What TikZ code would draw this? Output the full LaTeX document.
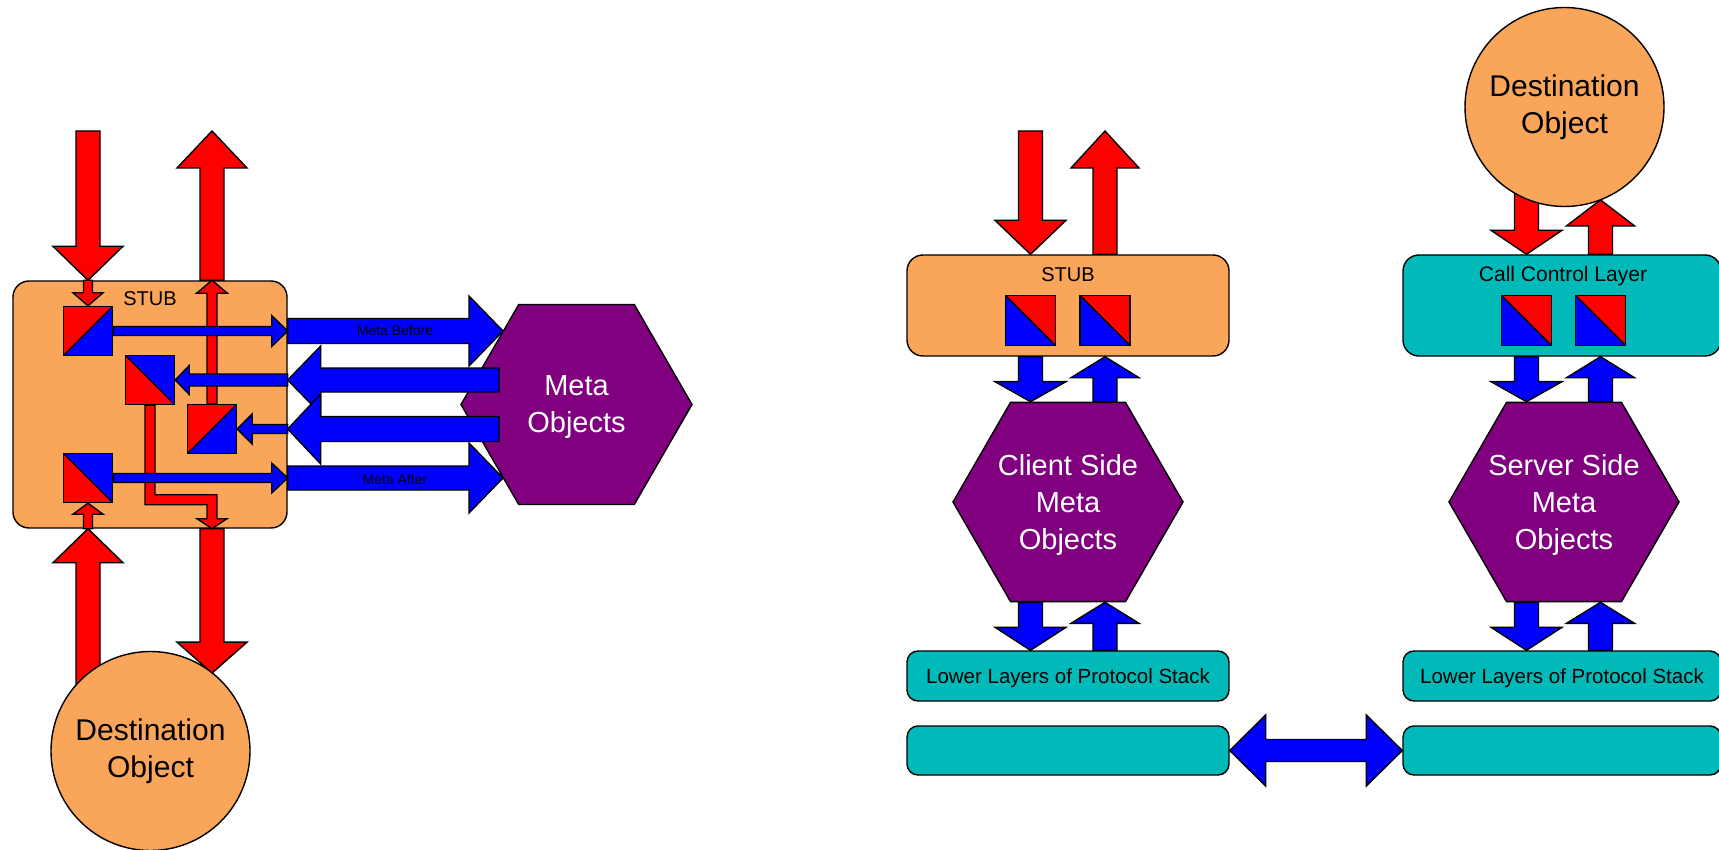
\documentclass[tikz,border=0pt]{standalone}
\usepackage{fontspec}
\setmainfont{Liberation Sans}
\usetikzlibrary{calc,shapes.geometric}

\definecolor{boxorange}{RGB}{250,166,90}
\definecolor{layerteal}{RGB}{0,185,185}
\definecolor{metapurple}{RGB}{128,0,128}
\definecolor{sigred}{RGB}{255,0,0}
\definecolor{sigblue}{RGB}{0,0,255}

\pgfdeclarelayer{back}
\pgfsetlayers{back,main}

\tikzset{
  outline/.style={draw=black, line width=1.4pt, line join=miter},
  redarrow/.style={outline, fill=sigred},
  bluearrow/.style={outline, fill=sigblue},
  stubbox/.style={outline, fill=boxorange, rounded corners=16pt, inner sep=0pt},
  layerbox/.style={outline, fill=layerteal, rounded corners=11pt, inner sep=0pt},
  metahex/.style={outline, fill=metapurple, regular polygon, regular polygon sides=6, inner sep=0pt},
  destcircle/.style={outline, fill=boxorange, circle, inner sep=0pt, minimum size=199pt,
                     align=center, font=\fontsize{30}{37}\selectfont},
  hextext/.style={text=white, align=center, inner sep=0pt, font=\fontsize{29}{37}\selectfont},
  lbl/.style={font=\fontsize{#1}{#1}\selectfont, text depth=0pt, inner sep=0pt},
  sq/.style={outline, minimum size=#1, inner sep=0pt},
  % red upper-left half, diagonal from lower left to upper right
  sqUL/.style={sq=#1, path picture={
      \fill[sigred] (path picture bounding box.north west) -- (path picture bounding box.north east)
                    -- (path picture bounding box.south west) -- cycle;
      \fill[sigblue] (path picture bounding box.north east) -- (path picture bounding box.south east)
                    -- (path picture bounding box.south west) -- cycle;
      \draw[line width=1.4pt] (path picture bounding box.south west) -- (path picture bounding box.north east);}},
  % red lower-left half, diagonal from upper left to lower right
  sqLL/.style={sq=#1, path picture={
      \fill[sigred] (path picture bounding box.north west) -- (path picture bounding box.south west)
                    -- (path picture bounding box.south east) -- cycle;
      \fill[sigblue] (path picture bounding box.north west) -- (path picture bounding box.north east)
                    -- (path picture bounding box.south east) -- cycle;
      \draw[line width=1.4pt] (path picture bounding box.north west) -- (path picture bounding box.south east);}},
  % red upper-right half, diagonal from upper left to lower right
  sqUR/.style={sq=#1, path picture={
      \fill[sigred] (path picture bounding box.north west) -- (path picture bounding box.north east)
                    -- (path picture bounding box.south east) -- cycle;
      \fill[sigblue] (path picture bounding box.north west) -- (path picture bounding box.south west)
                    -- (path picture bounding box.south east) -- cycle;
      \draw[line width=1.4pt] (path picture bounding box.north west) -- (path picture bounding box.south east);}},
}

% block arrow: [style]{from}{to}{shaft half width}{head half width}{head length}
\newcommand\fatarrow[6][]{%
  \path ($(#3)!#6!(#2)$) coordinate (fa-h);
  \filldraw[#1]
    ($(#2)!#4!90:(#3)$) -- ($(fa-h)!#4!-90:(#2)$) -- ($(fa-h)!#5!-90:(#2)$) -- (#3)
    -- ($(fa-h)!#5!90:(#2)$) -- ($(fa-h)!#4!90:(#2)$) -- ($(#2)!#4!-90:(#3)$) -- cycle;}

% block arrow with a head at both ends
\newcommand\dblarrow[6][]{%
  \path ($(#2)!#6!(#3)$) coordinate (da-a) ($(#3)!#6!(#2)$) coordinate (da-b);
  \filldraw[#1] (#2) -- ($(da-a)!#5!90:(#3)$) -- ($(da-a)!#4!90:(#3)$)
    -- ($(da-b)!#4!-90:(#2)$) -- ($(da-b)!#5!-90:(#2)$) -- (#3)
    -- ($(da-b)!#5!90:(#2)$) -- ($(da-b)!#4!90:(#2)$)
    -- ($(da-a)!#4!-90:(#3)$) -- ($(da-a)!#5!-90:(#3)$) -- cycle;}

\begin{document}
\begin{tikzpicture}[x=1pt,y=-1pt]
\begin{pgfonlayer}{back}
  \fill[white] (0,0) rectangle (1719,850);
\end{pgfonlayer}
\useasboundingbox (0,0) rectangle (1719,850);

% ================= local stub with meta objects =================
\node[stubbox, minimum width=274pt, minimum height=247pt] (stubL) at (150,404.5) {};
\node[lbl=20] (stubLtxt) at ($(stubL.north)+(0,18)$) {STUB};

\node[sqUL=49pt] (sqA) at (88,331) {};
\node[sqLL=49pt] (sqB) at (150,380) {};
\node[sqUL=49pt] (sqC) at (212,429) {};
\node[sqLL=49pt] (sqD) at (88,478) {};

\node[metahex, minimum size=231pt] (hexL) at (576.5,404.5) {};
\node[hextext] (hexLtxt) at ($(hexL.center)+(0,3)$) {Meta\\Objects};

\node[destcircle] (destL) at (150.5,751) {Destination\\Object};

\coordinate (callL) at (88,131);
\coordinate (retL) at (212,131);
\coordinate (inL) at (sqA.north |- stubL.north);
\coordinate (outL) at (sqC.north |- stubL.north);
\coordinate (backL) at (sqD.south |- stubL.south);
\coordinate (fromDest) at (sqD.south |- destL.center);
\coordinate (toDestS) at (outL |- stubL.south);
\coordinate (toDest) at (outL |- destL.51);

\coordinate (mbS) at (sqA.east -| stubL.east);
\coordinate (mbT) at (503,331);
\coordinate (rt1) at (sqB.east -| stubL.east);
\coordinate (rt1s) at (499,380);
\coordinate (rt2) at (sqC.east -| stubL.east);
\coordinate (rt2s) at (499,429);
\coordinate (maS) at (sqD.east -| stubL.east);
\coordinate (maT) at (503,478);

\begin{pgfonlayer}{back}
  \fatarrow[redarrow]{callL}{inL}{12pt}{35pt}{34pt}
  \fatarrow[redarrow]{outL}{retL}{12pt}{35pt}{37pt}
  \fatarrow[redarrow]{fromDest}{backL}{12pt}{35pt}{34pt}
  \fatarrow[redarrow]{toDestS}{toDest}{12pt}{35pt}{31pt}
\end{pgfonlayer}

% red paths inside the stub
\fatarrow[redarrow]{inL}{sqA.north}{4.5pt}{15pt}{13pt}
\fatarrow[redarrow]{backL}{sqD.south}{4.5pt}{15pt}{11pt}
\fatarrow[redarrow]{sqC.north}{outL}{5pt}{15.5pt}{13pt}
\filldraw[redarrow] ($(sqB.south)+(-5,0)$) |- ($(toDestS)+(-5,-24)$) -- ($(toDestS)+(-5,-10)$)
  -- ($(toDestS)+(-15,-10)$) -- (toDestS) -- ($(toDestS)+(15,-10)$) -- ($(toDestS)+(5,-10)$)
  -- ($(toDestS)+(5,-34)$) -| ($(sqB.south)+(5,0)$) -- cycle;

% blue paths inside the stub
\fatarrow[bluearrow]{sqA.east}{mbS}{4.5pt}{15.5pt}{16pt}
\fatarrow[bluearrow]{rt1}{sqB.east}{6pt}{14.5pt}{14pt}
\fatarrow[bluearrow]{rt2}{sqC.east}{4.5pt}{15pt}{15pt}
\fatarrow[bluearrow]{sqD.east}{maS}{4.5pt}{15pt}{16pt}

% calls to and from the meta objects
\fatarrow[bluearrow]{mbS}{mbT}{12.5pt}{35pt}{34pt}
\fatarrow[bluearrow]{maS}{maT}{12pt}{35pt}{34pt}
\fatarrow[bluearrow]{rt1s}{rt1}{12pt}{34pt}{33pt}
\fatarrow[bluearrow]{rt2s}{rt2}{12.5pt}{35pt}{33pt}
\node[lbl=14] (mbTxt) at (395,330) {Meta Before};
\node[lbl=14] (maTxt) at (395,479) {Meta After};

% ================= client side =================
\node[stubbox, minimum width=322pt, minimum height=101pt] (stubR) at (1068,305.5) {};
\node[lbl=20] (stubRtxt) at ($(stubR.north)+(0,20)$) {STUB};
\node[sqUR=50pt] (sqE) at (1030.5,320.5) {};
\node[sqUR=50pt] (sqF) at (1105,320.5) {};

\node[metahex, minimum size=230pt] (hexC) at (1068,502) {};
\node[hextext] (hexCtxt) at ($(hexC.center)+(0,3)$) {Client Side\\Meta\\Objects};

\node[layerbox, minimum width=322pt, minimum height=50pt] (lowC) at (1068,676) {};
\node[lbl=20.5] (lowCtxt) at (lowC.center) {Lower Layers of Protocol Stack};
\node[layerbox, minimum width=322pt, minimum height=49pt] (botC) at (1068,750.5) {};

\coordinate (callC) at (1030.5,131);
\coordinate (retC) at (1105,131);
\coordinate (inC) at (sqE.north |- stubR.north);
\coordinate (outC) at (sqF.north |- stubR.north);
\coordinate (dC1) at (sqE.south |- stubR.south);
\coordinate (dC2) at (sqE.south |- hexC.north);
\coordinate (uC1) at (sqF.south |- hexC.north);
\coordinate (uC2) at (sqF.south |- stubR.south);
\coordinate (dC3) at (sqE.south |- hexC.south);
\coordinate (dC4) at (sqE.south |- lowC.north);
\coordinate (uC3) at (sqF.south |- lowC.north);
\coordinate (uC4) at (sqF.south |- hexC.south);

\fatarrow[redarrow]{callC}{inC}{12pt}{35.5pt}{34pt}
\fatarrow[redarrow]{outC}{retC}{12pt}{34pt}{37pt}
\fatarrow[bluearrow]{dC1}{dC2}{12pt}{35.5pt}{20pt}
\fatarrow[bluearrow]{uC1}{uC2}{12pt}{34pt}{21pt}
\fatarrow[bluearrow]{dC3}{dC4}{12pt}{35.5pt}{23pt}
\fatarrow[bluearrow]{uC3}{uC4}{12pt}{34pt}{21pt}

% ================= server side =================
\node[stubbox, fill=layerteal, minimum width=318pt, minimum height=101pt] (ccl) at (1562,305.5) {};
\node[lbl=21] (ccltxt) at ($(ccl.north)+(1,20)$) {Call Control Layer};
\node[sqUR=50pt] (sqG) at (1526.5,320.5) {};
\node[sqUR=50pt] (sqH) at (1600.5,320.5) {};

\node[destcircle] (destR) at (1564.5,107) {Destination\\Object};

\node[metahex, minimum size=230pt] (hexS) at (1564,502) {};
\node[hextext] (hexStxt) at ($(hexS.center)+(0,3)$) {Server Side\\Meta\\Objects};

\node[layerbox, minimum width=318pt, minimum height=50pt] (lowS) at (1562,676) {};
\node[lbl=20.5] (lowStxt) at (lowS.center) {Lower Layers of Protocol Stack};
\node[layerbox, minimum width=318pt, minimum height=49pt] (botS) at (1562,750.5) {};

\coordinate (inS0) at (sqG.north |- destR.center);
\coordinate (inS) at (sqG.north |- ccl.north);
\coordinate (outS) at (sqH.north |- ccl.north);
\coordinate (outS0) at (sqH.north |- destR.-68);
\coordinate (dS1) at (sqG.south |- ccl.south);
\coordinate (dS2) at (sqG.south |- hexS.north);
\coordinate (uS1) at (sqH.south |- hexS.north);
\coordinate (uS2) at (sqH.south |- ccl.south);
\coordinate (dS3) at (sqG.south |- hexS.south);
\coordinate (dS4) at (sqG.south |- lowS.north);
\coordinate (uS3) at (sqH.south |- lowS.north);
\coordinate (uS4) at (sqH.south |- hexS.south);

\begin{pgfonlayer}{back}
  \fatarrow[redarrow]{inS0}{inS}{12pt}{35.5pt}{24pt}
  \fatarrow[redarrow]{outS}{outS0}{12pt}{34pt}{26pt}
\end{pgfonlayer}
\fatarrow[bluearrow]{dS1}{dS2}{12pt}{35.5pt}{20pt}
\fatarrow[bluearrow]{uS1}{uS2}{12pt}{34pt}{21pt}
\fatarrow[bluearrow]{dS3}{dS4}{12pt}{35.5pt}{23pt}
\fatarrow[bluearrow]{uS3}{uS4}{12pt}{34pt}{21pt}

% link between the two protocol stacks
\dblarrow[bluearrow]{botC.east}{botS.west}{11pt}{35.5pt}{36pt}

\end{tikzpicture}
\end{document}
